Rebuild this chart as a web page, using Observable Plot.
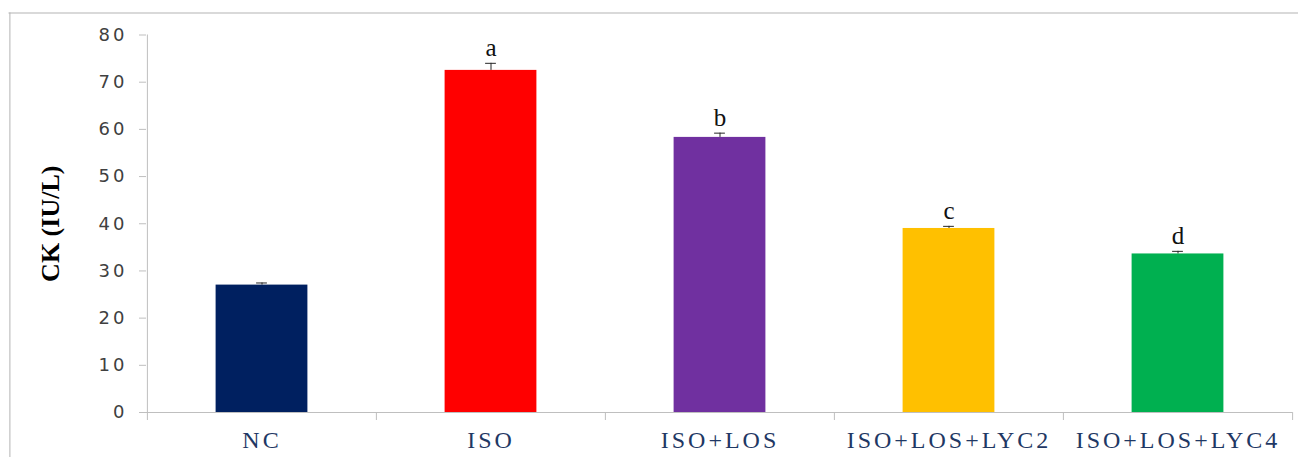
<!DOCTYPE html>
<html>
<head>
<meta charset="utf-8">
<script src="https://cdn.jsdelivr.net/npm/d3@7"></script>
<script src="https://cdn.jsdelivr.net/npm/@observablehq/plot@0.6"></script>
<style>
  html, body { margin: 0; padding: 0; background: #fff; overflow: hidden; }
  g[aria-label="x-axis tick label"] text { letter-spacing: 3px; }
  g[aria-label="y-axis tick label"] text { letter-spacing: 3px; }
  g[aria-label="y-axis tick"] { stroke: #bfbfbf; }
</style>
</head>
<body>
<div id="chart"></div>
<script>
const categories = ["NC", "ISO", "ISO+LOS", "ISO+LOS+LYC2", "ISO+LOS+LYC4"];
const values = [27.0, 72.5, 58.3, 39.0, 33.6];
const errors = [0.45, 1.5, 0.9, 0.45, 0.55];
const letters = ["", "a", "b", "c", "d"];
const colors = ["#002060", "#ff0000", "#7030a0", "#ffc000", "#00b050"];
const yTicks = [0, 10, 20, 30, 40, 50, 60, 70, 80];
const yLabel = "CK (IU/L)";

const data = categories.map((c, i) => ({cat: c, value: values[i], err: errors[i], letter: letters[i]}));

const W = 1298, H = 457, ML = 146, MR = 6, MT = 34.5, MB = 45;
const bw = (W - ML - MR) / categories.length;
const barW = 92;
const capW = 11;
const borderL = ML - 8.5, borderT = MT - 12.5;

const chart = Plot.plot({
  width: W,
  height: H,
  marginLeft: ML,
  marginRight: MR,
  marginTop: MT,
  marginBottom: MB,
  style: {background: "#fff", overflow: "hidden"},
  x: {domain: categories, padding: 0, label: null},
  y: {domain: [0, 80], label: null},
  color: {domain: categories, range: colors},
  marks: [
    // outer border (top and left edges)
    Plot.ruleY([80], {dy: -borderT, insetLeft: -borderL, insetRight: -MR, stroke: "#b3b3b3"}),
    Plot.ruleX(categories.slice(0, 1), {x: d => d, y1: 80, y2: 0, dx: -bw / 2 - borderL, insetTop: -borderT, insetBottom: -MB, stroke: "#b3b3b3"}),
    Plot.barY(data, {x: "cat", y: "value", fill: "cat", insetLeft: (bw - barW) / 2, insetRight: (bw - barW) / 2}),
    Plot.ruleY([0], {stroke: "#bfbfbf"}),
    // y-axis line (left boundary)
    Plot.ruleX(categories.slice(0, 1), {x: d => d, y1: 80, y2: 0, dx: -bw / 2, insetBottom: -8, stroke: "#bfbfbf"}),
    // category boundary ticks
    Plot.ruleX(categories.slice(1), {x: d => d, y1: 0, y2: 0, dx: -bw / 2, insetBottom: -8, stroke: "#bfbfbf"}),
    Plot.ruleX(categories.slice(-1), {x: d => d, y1: 0, y2: 0, dx: bw / 2, insetBottom: -8, stroke: "#bfbfbf"}),
    // error bars
    Plot.ruleX(data, {x: "cat", y1: "value", y2: d => d.value + d.err, stroke: "#262626"}),
    Plot.tickY(data, {x: "cat", y: d => d.value + d.err, stroke: "#262626", insetLeft: (bw - capW) / 2, insetRight: (bw - capW) / 2}),
    // significance letters
    Plot.text(data.filter(d => d.letter), {x: "cat", y: d => d.value + d.err, text: "letter", lineAnchor: "bottom", dy: -7, fontSize: 25, fontFamily: "Liberation Serif", fill: "#111"}),
    // axes
    Plot.axisX({tickSize: 0, tickPadding: 18, fontSize: 24, fontFamily: "Liberation Serif", color: "#1f3864", label: null}),
    Plot.axisY({ticks: yTicks, tickSize: 7, tickPadding: 12, fontSize: 18, fontFamily: "DejaVu Sans", color: "#404040", label: null}),
    Plot.text([yLabel], {frameAnchor: "left", textAnchor: "middle", rotate: -90, dx: -96, fontSize: 26, fontWeight: "bold", fontFamily: "Liberation Serif", fill: "#000"})
  ]
});
document.getElementById("chart").appendChild(chart);
</script>
</body>
</html>
